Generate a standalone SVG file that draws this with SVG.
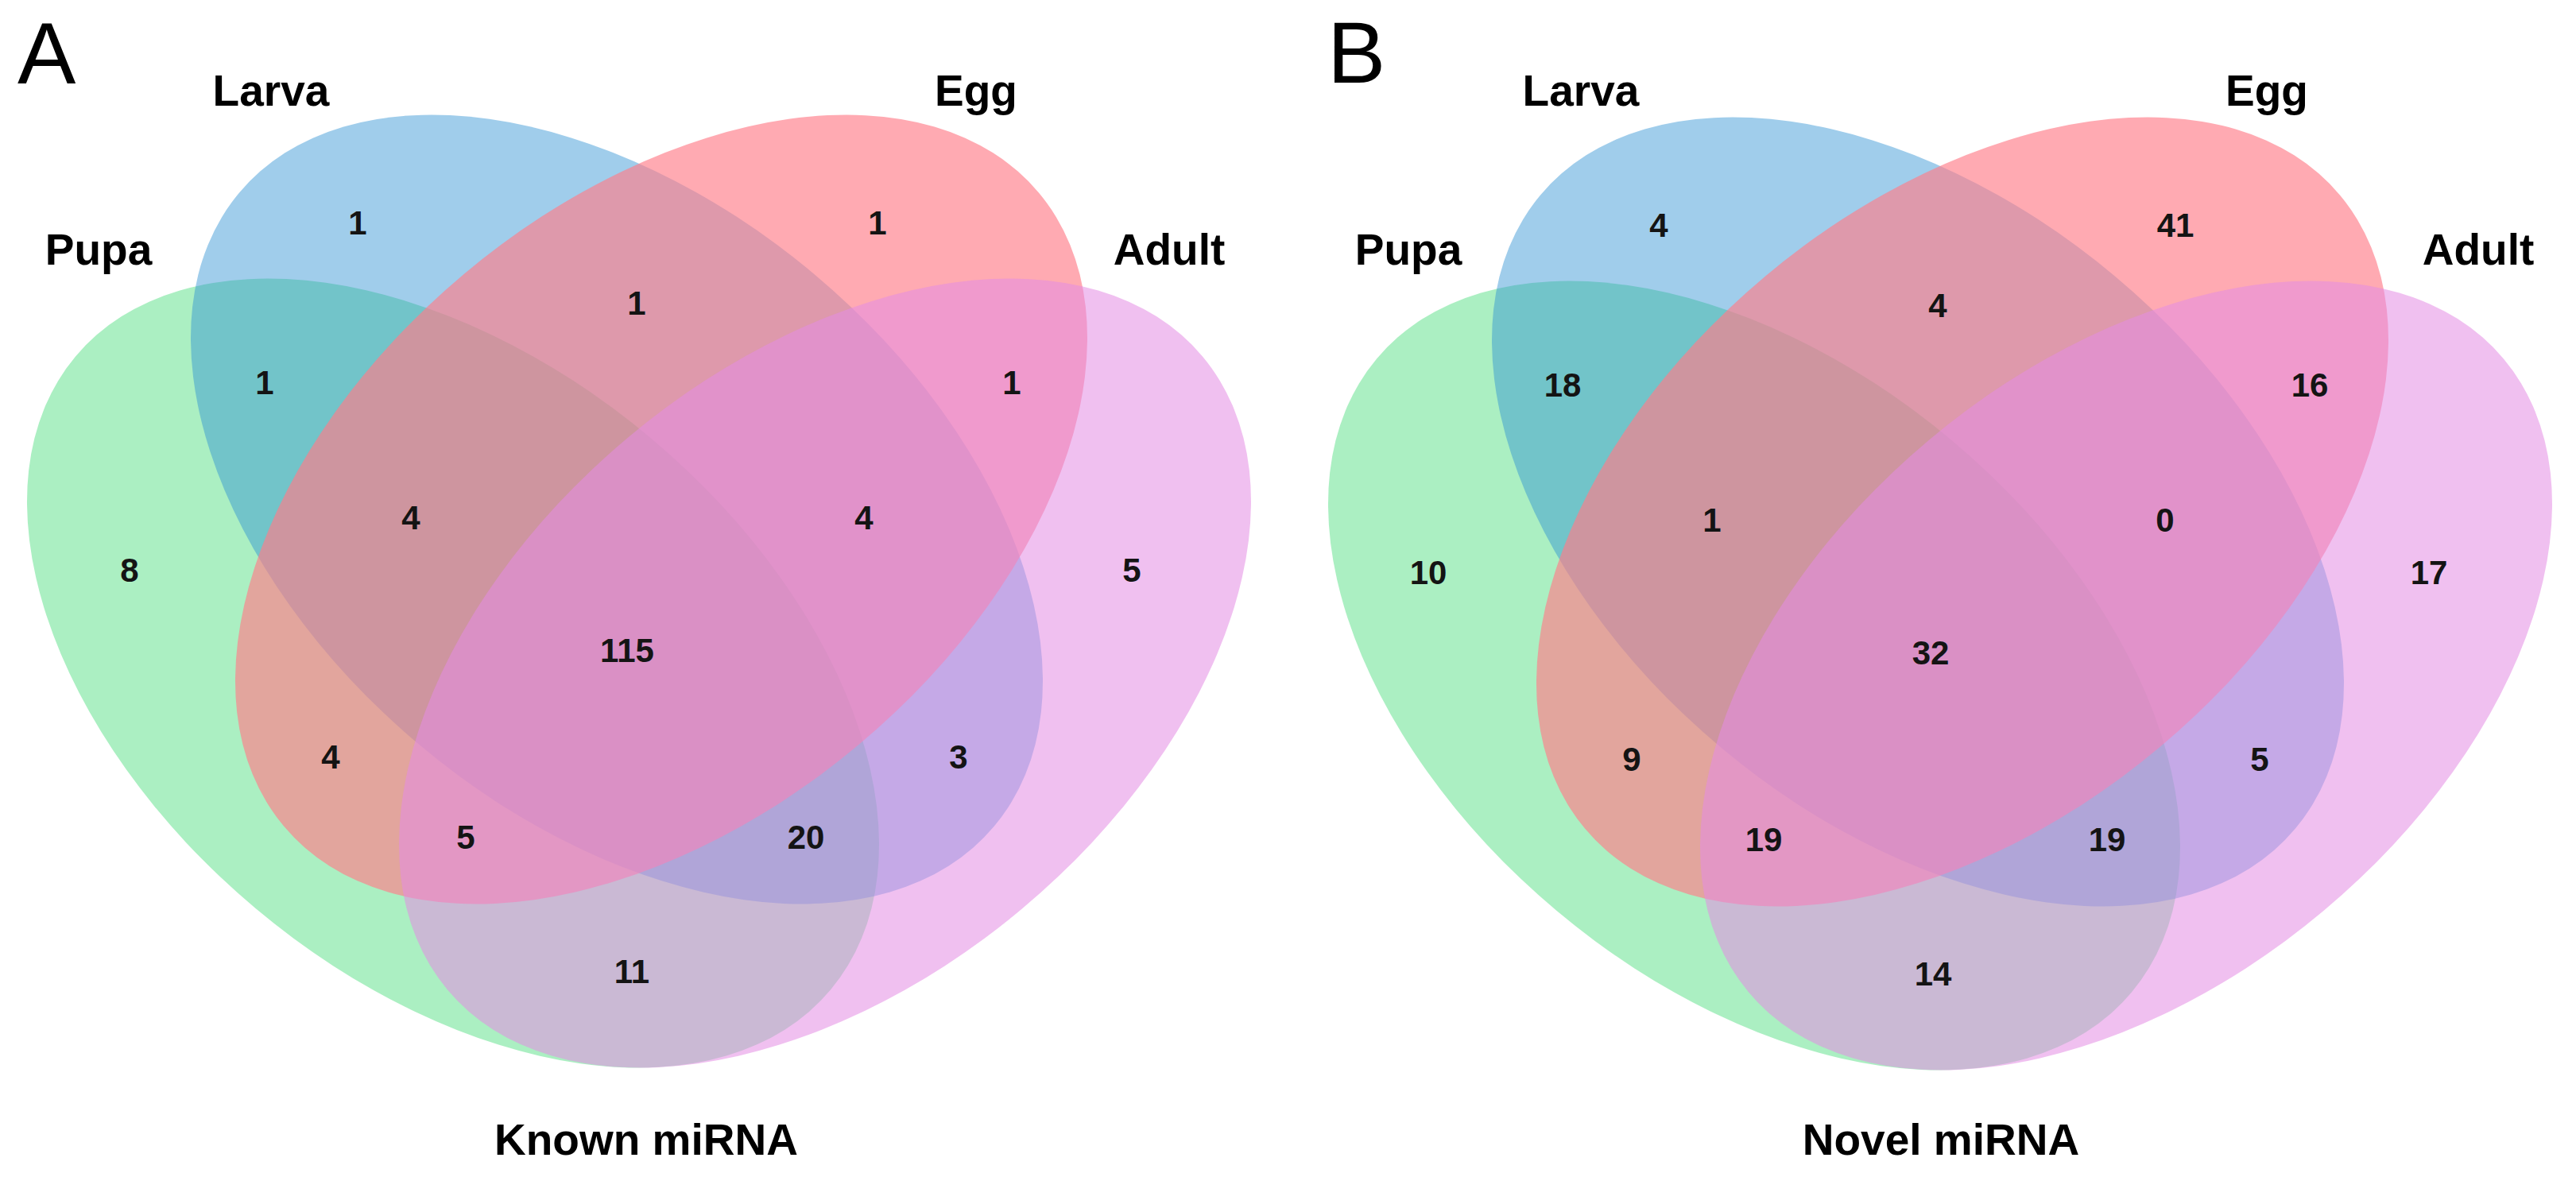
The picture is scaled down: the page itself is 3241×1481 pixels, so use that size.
<svg xmlns="http://www.w3.org/2000/svg" width="3241" height="1481" viewBox="0 0 3241 1481">
<style>
  text { font-family: "Liberation Sans", Arial, sans-serif; fill: #000; }
  .panel { font-size: 110px; font-weight: normal; }
  .cat { font-size: 55px; font-weight: bold; text-anchor: middle; }
  .num { font-size: 42px; font-weight: bold; text-anchor: middle; fill: #141414; }
  .title { font-size: 55px; font-weight: bold; text-anchor: middle; }
  .set { stroke: none; }
  .pupa { fill: #57DF85; fill-opacity: 0.5; }
  .larva { fill: #2C90D3; fill-opacity: 0.45; }
  .egg { fill: #FF7C89; fill-opacity: 0.65; }
  .adult { fill: #E48CE4; fill-opacity: 0.55; }
</style>
<rect x="0" y="0" width="3241" height="1481" fill="#FFFFFF"/>

<g id="panel-A">
  <text class="panel" x="22" y="105">A</text>
  <g id="A-pupa"><ellipse class="set pupa" cx="570" cy="847" rx="620" ry="386.5" transform="rotate(40 570 847)"/><text class="cat" x="124" y="333">Pupa</text></g>
  <g id="A-larva"><ellipse class="set larva" cx="776" cy="641" rx="620" ry="386.5" transform="rotate(40 776 641)"/><text class="cat" x="341" y="133">Larva</text></g>
  <g id="A-egg"><ellipse class="set egg" cx="832" cy="641" rx="620" ry="386.5" transform="rotate(-40 832 641)"/><text class="cat" x="1228" y="133">Egg</text></g>
  <g id="A-adult"><ellipse class="set adult" cx="1038" cy="847" rx="620" ry="386.5" transform="rotate(-40 1038 847)"/><text class="cat" x="1471" y="333">Adult</text></g>
  <g id="A-counts">
    <text class="num" x="450" y="295">1</text>
    <text class="num" x="1104" y="295">1</text>
    <text class="num" x="801" y="396">1</text>
    <text class="num" x="333" y="496">1</text>
    <text class="num" x="1273" y="496">1</text>
    <text class="num" x="517" y="666">4</text>
    <text class="num" x="1087" y="666">4</text>
    <text class="num" x="163" y="732">8</text>
    <text class="num" x="1424" y="732">5</text>
    <text class="num" x="789" y="833">115</text>
    <text class="num" x="416" y="967">4</text>
    <text class="num" x="1206" y="967">3</text>
    <text class="num" x="586" y="1068">5</text>
    <text class="num" x="1014" y="1068">20</text>
    <text class="num" x="795" y="1237">11</text>
  </g>
  <text class="title" x="813" y="1453">Known miRNA</text>
</g>

<g id="panel-B">
  <text class="panel" x="1670" y="104">B</text>
  <g id="B-pupa"><ellipse class="set pupa" cx="2207" cy="850" rx="620" ry="386.5" transform="rotate(40 2207 850)"/><text class="cat" x="1772" y="333">Pupa</text></g>
  <g id="B-larva"><ellipse class="set larva" cx="2413" cy="644" rx="620" ry="386.5" transform="rotate(40 2413 644)"/><text class="cat" x="1989" y="133">Larva</text></g>
  <g id="B-egg"><ellipse class="set egg" cx="2469" cy="644" rx="620" ry="386.5" transform="rotate(-40 2469 644)"/><text class="cat" x="2852" y="133">Egg</text></g>
  <g id="B-adult"><ellipse class="set adult" cx="2675" cy="850" rx="620" ry="386.5" transform="rotate(-40 2675 850)"/><text class="cat" x="3118" y="333">Adult</text></g>
  <g id="B-counts">
    <text class="num" x="2087" y="298">4</text>
    <text class="num" x="2737" y="298">41</text>
    <text class="num" x="2438" y="399">4</text>
    <text class="num" x="1966" y="499">18</text>
    <text class="num" x="2906" y="499">16</text>
    <text class="num" x="2154" y="669">1</text>
    <text class="num" x="2724" y="669">0</text>
    <text class="num" x="1797" y="735">10</text>
    <text class="num" x="3056" y="735">17</text>
    <text class="num" x="2429" y="836">32</text>
    <text class="num" x="2053" y="970">9</text>
    <text class="num" x="2843" y="970">5</text>
    <text class="num" x="2219" y="1071">19</text>
    <text class="num" x="2651" y="1071">19</text>
    <text class="num" x="2432" y="1240">14</text>
  </g>
  <text class="title" x="2442" y="1453">Novel miRNA</text>
</g>

<g id="connectors"/>
</svg>
